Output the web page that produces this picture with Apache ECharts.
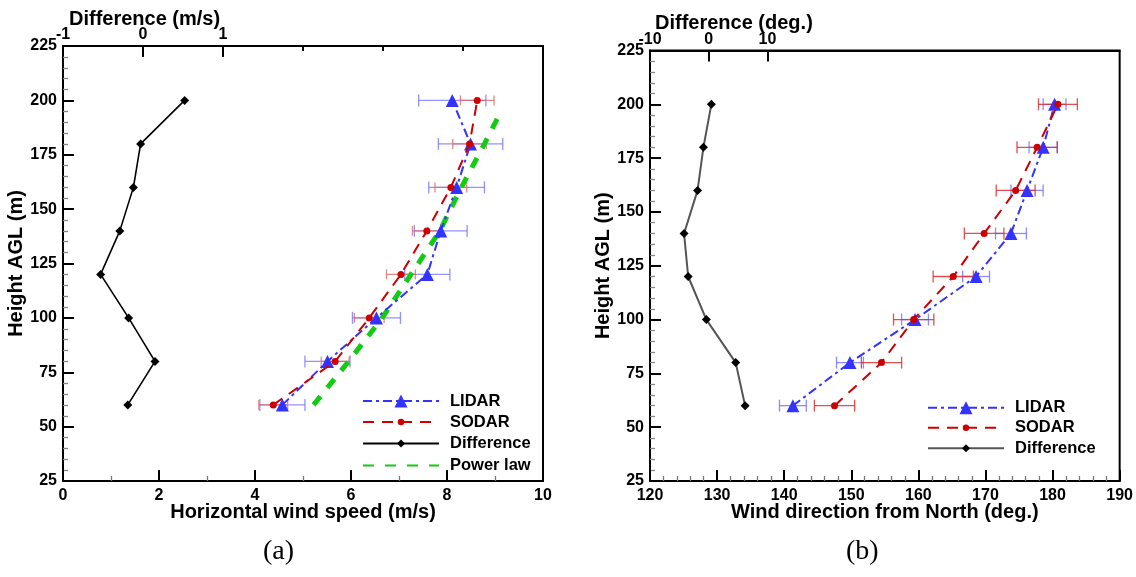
<!DOCTYPE html>
<html>
<head>
<meta charset="utf-8">
<script src="https://cdn.jsdelivr.net/npm/echarts@6/dist/echarts.min.js"></script>
<style>html,body{margin:0;padding:0;background:#fff}#c{width:1136px;height:577px}</style>
</head>
<body>
<div id="c"></div>
<script>
// ---- data ----
const heights = [60, 80, 100, 120, 140, 160, 180, 200];
const speedLidar = [4.57, 5.51, 6.53, 7.59, 7.87, 8.20, 8.49, 8.11];
const speedLidarErr = [0.47, 0.47, 0.50, 0.47, 0.55, 0.58, 0.67, 0.70];
const speedSodar = [4.38, 5.67, 6.38, 7.04, 7.58, 8.08, 8.47, 8.63];
const speedSodarErr = [0.30, 0.29, 0.31, 0.30, 0.30, 0.33, 0.35, 0.35];
const speedDiff = [-0.19, 0.15, -0.18, -0.53, -0.29, -0.12, -0.03, 0.52];
const powerHeights = [60, 80, 100, 120, 140, 160, 180, 196];
const powerSpeed = [5.22, 5.95, 6.65, 7.25, 7.85, 8.30, 8.78, 9.15];

const dirLidar = [141.3, 149.8, 159.5, 168.6, 173.8, 176.2, 178.6, 180.3];
const dirLidarErr = [2.0, 2.0, 2.0, 2.0, 2.3, 2.4, 2.1, 1.7];
const dirSodar = [147.5, 154.5, 159.3, 165.2, 169.8, 174.5, 177.7, 180.8];
const dirSodarErr = [3.0, 3.0, 3.0, 3.0, 2.95, 2.9, 3.0, 2.9];
const dirDiff = [6.2, 4.6, -0.4, -3.5, -4.2, -1.9, -0.9, 0.45];

const heightTicks = [25, 225, 25];      // min, max, interval
const speedTicks = [0, 10, 2];
const speedDiffTicks = [-1, 5, 1];
const speedDiffLabels = [-1, 0, 1];
const dirTicks = [120, 190, 10];
const dirDiffTicks = [-10, 70, 10];
const dirDiffLabels = [-10, 0, 10];

// ---- helpers ----
const FONT = 'Liberation Sans';
const pairs = (xs, ys) => xs.map((x, i) => [x, ys[i]]);
const errData = (v, e) => heights.map((h, i) => [h, v[i] - e[i], v[i] + e[i]]);

function errSeries(xi, yi, data, color, capHalf, opacity) {
  return {
    type: 'custom', xAxisIndex: xi, yAxisIndex: yi, z: 1, silent: true,
    data: data, encode: { x: [1, 2], y: 0 },
    renderItem: function (params, api) {
      const y = api.value(0), lo = api.value(1), hi = api.value(2);
      const a = api.coord([lo, y]), b = api.coord([hi, y]);
      const st = { stroke: color, lineWidth: 1.3, opacity: opacity };
      return {
        type: 'group', children: [
          { type: 'line', shape: { x1: a[0], y1: a[1], x2: b[0], y2: b[1] }, style: st },
          { type: 'line', shape: { x1: a[0], y1: a[1] - capHalf, x2: a[0], y2: a[1] + capHalf }, style: st },
          { type: 'line', shape: { x1: b[0], y1: b[1] - capHalf, x2: b[0], y2: b[1] + capHalf }, style: st }
        ]
      };
    }
  };
}

const labelStyle = { color: '#000', fontFamily: FONT, fontWeight: 'bold', fontSize: 16 };
const nameStyle = { color: '#000', fontFamily: FONT, fontWeight: 'bold', fontSize: 20 };

function bottomX(grid, t, minorSplit, name) {
  return {
    type: 'value', gridIndex: grid, position: 'bottom', min: t[0], max: t[1], interval: t[2],
    name: name, nameLocation: 'middle', nameGap: 21, nameMoveOverlap: false, nameTextStyle: nameStyle,
    axisLine: { show: true, onZero: false, lineStyle: { color: '#000', width: 2 } },
    axisTick: { show: true, inside: true, length: 11, lineStyle: { color: '#000', width: 2 } },
    minorTick: { show: true, splitNumber: minorSplit, length: 5, lineStyle: { color: '#777', width: 1.3 } },
    axisLabel: Object.assign({ margin: 7, showMinLabel: true, showMaxLabel: true }, labelStyle),
    splitLine: { show: false }
  };
}
function leftY(grid, nameGap) {
  return {
    type: 'value', gridIndex: grid, min: heightTicks[0], max: heightTicks[1], interval: heightTicks[2],
    name: 'Height AGL (m)', nameLocation: 'middle', nameRotate: 90, nameGap: nameGap, nameTextStyle: nameStyle,
    axisLine: { show: true, onZero: false, lineStyle: { color: '#000', width: 2 } },
    axisTick: { show: true, inside: true, length: 11, lineStyle: { color: '#000', width: 2 } },
    minorTick: { show: true, splitNumber: 5, length: 5, lineStyle: { color: '#888', width: 1.3 } },
    axisLabel: Object.assign({ margin: 6, showMinLabel: true, showMaxLabel: true }, labelStyle),
    splitLine: { show: false }
  };
}
function topX(grid, t, labels, ticks, tickLen, showLabel) {
  return {
    type: 'value', gridIndex: grid, position: 'top', min: t[0], max: t[1], interval: t[2],
    axisLine: { show: showLabel, onZero: false, lineStyle: { color: '#000', width: 2 } },
    axisTick: { show: true, inside: true, length: tickLen, customValues: ticks, lineStyle: { color: '#000', width: 2 } },
    axisLabel: Object.assign({ show: showLabel, margin: 3, customValues: labels }, labelStyle),
    splitLine: { show: false }
  };
}
// one legend component per row so each row can carry its own marker size
function legendRow(name, left, centerY, markerSize, extra) {
  const item = Object.assign({ name: name }, extra || {});
  const ih = markerSize / 0.8;
  const boxH = Math.max(ih, 19);
  return {
    orient: 'vertical', left: left - 5, top: centerY - boxH / 2 - 3,
    itemWidth: 76, itemHeight: ih, selectedMode: false,
    data: [item],
    textStyle: { color: '#000', fontFamily: FONT, fontWeight: 'bold', fontSize: 16.5, padding: [0, 0, 0, 6] }
  };
}

const lidarStyle = { color: '#3333ff', width: 2, type: [9, 4, 3, 4] };
const sodarStyle = { color: '#cc0000', width: 2, type: [11, 8] };

const option = {
  animation: false,
  backgroundColor: '#fff',
  grid: [
    { left: 63, top: 46, width: 480, height: 435, show: true, borderColor: '#000', borderWidth: 2, backgroundColor: 'transparent' },
    { left: 650, top: 50.5, width: 473, height: 430.5, show: true, borderColor: '#000', borderWidth: 2, backgroundColor: 'transparent' }
  ],
  xAxis: [
    bottomX(0, speedTicks, 2, 'Horizontal wind speed (m/s)'),
    topX(0, speedDiffTicks, speedDiffLabels, [0, 1], 11, true),
    topX(0, speedDiffTicks, [], [2, 3, 4], 5, false),
    bottomX(1, dirTicks, 5, 'Wind direction from North (deg.)'),
    topX(1, dirDiffTicks, dirDiffLabels, [0, 10], 11, true)
  ],
  yAxis: [leftY(0, 21), leftY(1, 37)],
  title: [
    { text: 'Difference (m/s)', left: 64, top: 4, textStyle: nameStyle },
    { text: 'Difference (deg.)', left: 650, top: 8, textStyle: nameStyle }
  ],
  graphic: [
    { type: 'text', left: 263, top: 538, style: { text: '(a)', font: '28px "Liberation Serif"', fill: '#000' } },
    { type: 'text', left: 846, top: 538, style: { text: '(b)', font: '28px "Liberation Serif"', fill: '#000' } }
  ],
  legend: [
    legendRow('LIDAR', 362, 400, 13),
    legendRow('SODAR', 362, 421, 6.5),
    legendRow('Difference', 362, 442.5, 8),
    legendRow('Power law', 362, 464.5, 8, { itemStyle: { opacity: 0 } }),
    legendRow('LIDAR', 927, 406.7, 13),
    legendRow('SODAR', 927, 426.7, 6.5),
    legendRow('Difference', 927, 447.3, 8, { lineStyle: { color: '#555' } })
  ],
  series: [
    // left panel
    errSeries(0, 0, errData(speedLidar, speedLidarErr), '#6f6fff', 6, 0.75),
    errSeries(0, 0, errData(speedSodar, speedSodarErr), '#e06a6a', 5, 0.8),
    {
      name: 'Power law', type: 'line', xAxisIndex: 0, yAxisIndex: 0, z: 2,
      data: pairs(powerSpeed, powerHeights), showSymbol: false, symbol: 'none',
      lineStyle: { color: '#11cc11', width: 5, type: [11, 11] }, itemStyle: { color: '#11cc11' }
    },
    {
      name: 'LIDAR', type: 'line', xAxisIndex: 0, yAxisIndex: 0, z: 3,
      data: pairs(speedLidar, heights), symbol: 'triangle', symbolSize: 13,
      lineStyle: lidarStyle, itemStyle: { color: '#3333ff' }
    },
    {
      name: 'SODAR', type: 'line', xAxisIndex: 0, yAxisIndex: 0, z: 4,
      data: pairs(speedSodar, heights), symbol: 'circle', symbolSize: 7,
      lineStyle: sodarStyle, itemStyle: { color: '#cc0000' }
    },
    {
      name: 'Difference', type: 'line', xAxisIndex: 1, yAxisIndex: 0, z: 3,
      data: pairs(speedDiff, heights), symbol: 'diamond', symbolSize: 9,
      lineStyle: { color: '#000', width: 1.6 }, itemStyle: { color: '#000' }
    },
    // right panel
    errSeries(3, 1, errData(dirLidar, dirLidarErr), '#6f6fff', 6, 0.8),
    errSeries(3, 1, errData(dirSodar, dirSodarErr), '#dd3030', 6, 0.85),
    {
      name: 'LIDAR', type: 'line', xAxisIndex: 3, yAxisIndex: 1, z: 3,
      data: pairs(dirLidar, heights), symbol: 'triangle', symbolSize: 13,
      lineStyle: lidarStyle, itemStyle: { color: '#3333ff' }
    },
    {
      name: 'SODAR', type: 'line', xAxisIndex: 3, yAxisIndex: 1, z: 4,
      data: pairs(dirSodar, heights), symbol: 'circle', symbolSize: 7,
      lineStyle: sodarStyle, itemStyle: { color: '#cc0000' }
    },
    {
      name: 'Difference', type: 'line', xAxisIndex: 4, yAxisIndex: 1, z: 3,
      data: pairs(dirDiff, heights), symbol: 'diamond', symbolSize: 9,
      lineStyle: { color: '#555', width: 2 }, itemStyle: { color: '#000' }
    }
  ]
};

const chart = echarts.init(document.getElementById('c'), null, { renderer: 'canvas' });
chart.setOption(option);
</script>
</body>
</html>
